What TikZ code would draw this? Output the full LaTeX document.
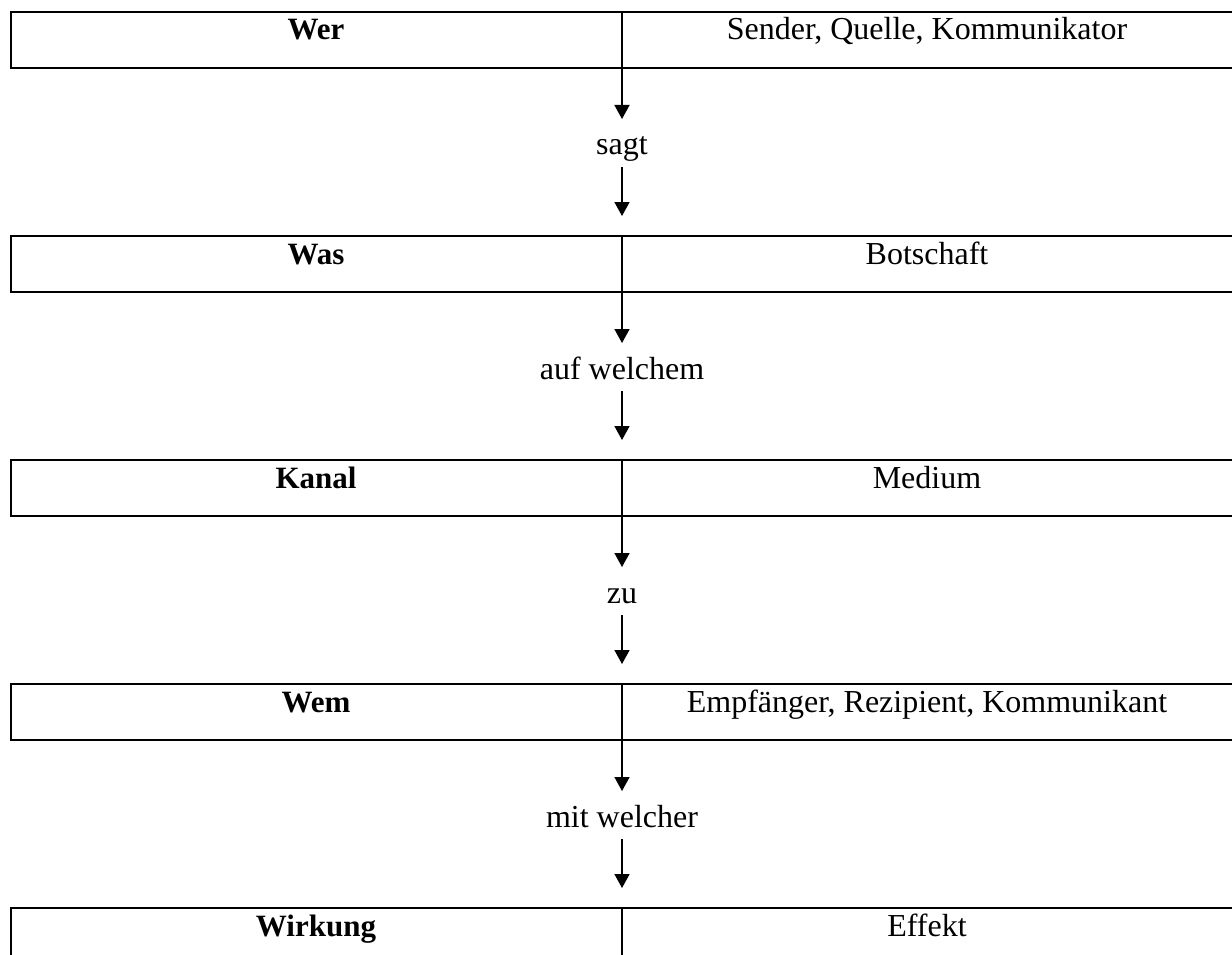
\documentclass[tikz,border=0pt]{standalone}
\usepackage{fontspec}
\setmainfont{Liberation Serif}
\usetikzlibrary{arrows.meta}
\tikzset{
  cellbox/.style={draw, line width=2.2pt, inner sep=0pt, outer sep=0pt, minimum height=56pt, anchor=north west},
  lefttext/.style={anchor=base, inner sep=0pt, font=\fontsize{31}{36}\selectfont\bfseries},
  righttext/.style={anchor=base, inner sep=0pt, font=\fontsize{32}{36}\selectfont},
  midtext/.style={anchor=base, inner sep=0pt, outer sep=0pt, text height=36pt, text depth=12pt, font=\fontsize{32}{36}\selectfont},
  arr/.style={line width=1.6pt, -{Triangle[width=15pt,length=14pt]}}
}
\begin{document}
\begin{tikzpicture}[x=1pt,y=-1pt]
\useasboundingbox (0,0) rectangle (1232,955);
% rows
\foreach \i/\l/\r in {0/Wer/{Sender, Quelle, Kommunikator},1/Was/Botschaft,2/Kanal/Medium,3/Wem/{Empfänger, Rezipient, Kommunikant},4/Wirkung/Effekt}{
  \node[cellbox, minimum width=611pt] (L\i) at (11,12+224*\i) {};
  \node[cellbox, minimum width=612pt] (R\i) at (622,12+224*\i) {};
  \node[lefttext] (LT\i) at (316,40+224*\i) {\l};
  \node[righttext] (RT\i) at (927,40+224*\i) {\r};
}
\foreach \i/\m in {0/sagt,1/auf welchem,2/zu,3/mit welcher}{
  \node[midtext] (M\i) at (622,155+224*\i) {\m};
}
\foreach \i/\j in {0/1,1/2,2/3,3/4}{
  \draw[arr] (L\i.south east) -- (M\i.north);
  \draw[arr, shorten >=20pt] (M\i.south) -- (L\j.north east);
}
\end{tikzpicture}
\end{document}
